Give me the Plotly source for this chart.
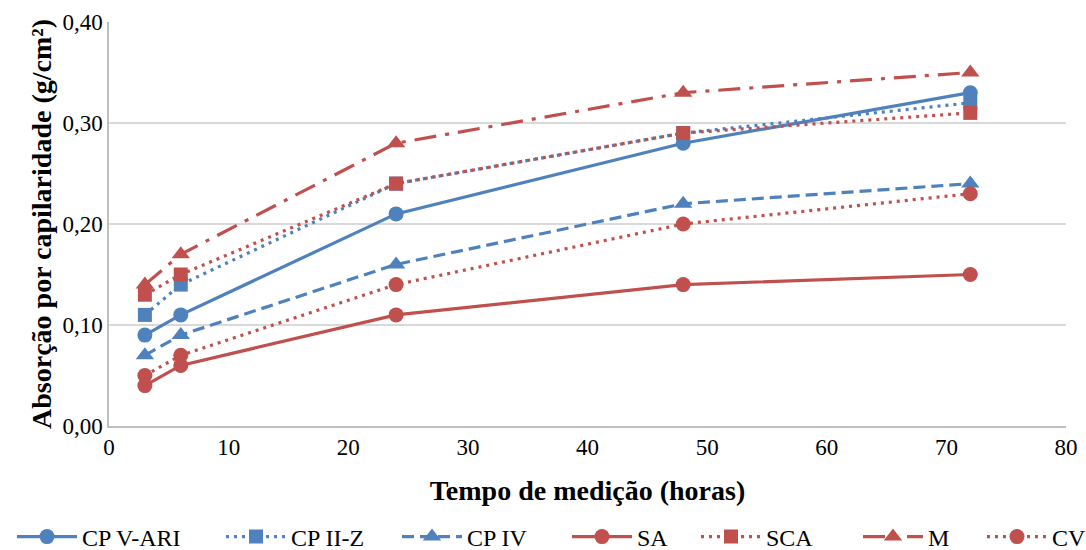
import plotly.graph_objects as go

hours = [3, 6, 24, 48, 72]
cp_v_ari = [0.09, 0.11, 0.21, 0.28, 0.33]
cp_ii_z = [0.11, 0.14, 0.24, 0.29, 0.32]
cp_iv = [0.07, 0.09, 0.16, 0.22, 0.24]
sa = [0.04, 0.06, 0.11, 0.14, 0.15]
sca = [0.13, 0.15, 0.24, 0.29, 0.31]
m = [0.14, 0.17, 0.28, 0.33, 0.35]
cv = [0.05, 0.07, 0.14, 0.20, 0.23]

BLUE = "#4F81BD"
RED = "#C0504D"

DOT = "3px,5px"
DASH = "12px,6px"
DASHDOT = "22px,9px,4px,9px"

series = [
    ("CP V-ARI", cp_v_ari, BLUE, "solid", "circle", 15),
    ("CP II-Z", cp_ii_z, BLUE, DOT, "square", 14),
    ("CP IV", cp_iv, BLUE, DASH, "triangle-up", 16),
    ("SA", sa, RED, "solid", "circle", 15),
    ("SCA", sca, RED, DOT, "square", 14),
    ("M", m, RED, DASHDOT, "triangle-up", 16),
    ("CV", cv, RED, DOT, "circle", 15),
]

# legend entry left positions (px, container)
leg_x = [12, 221, 397, 567, 696, 858, 982]

fig = go.Figure()
legends = {}
for i, (name, vals, col, dash, sym, ms) in enumerate(series):
    lname = "legend" if i == 0 else f"legend{i+1}"
    fig.add_trace(go.Scatter(
        x=hours, y=vals, name=name, mode="lines+markers",
        line=dict(color=col, width=3.2, dash=dash),
        marker=dict(color=col, symbol=sym, size=ms),
        legend=lname,
    ))
    legends[lname] = dict(
        xref="container", yref="container",
        x=leg_x[i] / 1086, xanchor="left",
        y=(550 - 537) / 550, yanchor="middle",
        orientation="h", font=dict(size=24),
        itemwidth=60, bgcolor="rgba(0,0,0,0)",
    )

font_family = "Liberation Serif, Times New Roman, serif"
fig.update_layout(
    width=1086, height=550,
    margin=dict(l=109, r=20, t=22, b=124, autoexpand=False),
    paper_bgcolor="white", plot_bgcolor="white",
    separators=", ",
    font=dict(family=font_family, size=23, color="black"),
    showlegend=True,
    xaxis=dict(range=[0, 80], dtick=10, showgrid=False, zeroline=False,
               showline=True, linecolor="#BFBFBF", linewidth=1.5,
               ticks="", tickfont=dict(size=23),
               title=dict(text="<b>Tempo de medição (horas)</b>", font=dict(size=28), standoff=21)),
    yaxis=dict(range=[0, 0.40], dtick=0.10, tickformat=".2f", showgrid=True,
               gridcolor="#D9D9D9", gridwidth=1.5, zeroline=False,
               showline=True, linecolor="#BFBFBF", linewidth=1.5,
               ticks="", tickfont=dict(size=23),
               title=dict(text="<b>Absorção por capilaridade (g/cm²)</b>", font=dict(size=28), standoff=3)),
    **legends,
)

fig.write_html("out.html")
